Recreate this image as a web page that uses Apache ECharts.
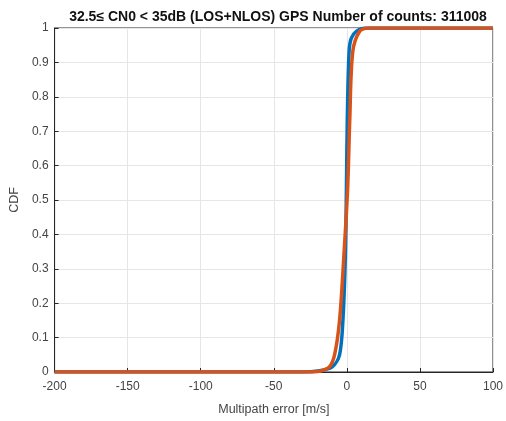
<!DOCTYPE html>
<html>
<head>
    <meta charset="utf-8">
    <title></title>
    <style type="text/css">
        body { margin: 0; background: #fff; }
    </style>
</head>
<body>
<div id="main" style="width: 506px;height:421px;"></div>

<script type="text/javascript" src="https://cdn.jsdelivr.net/npm/echarts@6/dist/echarts.min.js"></script>
<script type="text/javascript">
    // CDF curves
    var blueX = [-200, -30, -20, -10, -5, -2.7, -1, -0.3, 0.3, 1.5, 3, 6.5, 13, 100];
    var blueY = [0, 0, 0.003, 0.015, 0.05, 0.15, 0.34, 0.53, 0.735, 0.93, 0.97, 0.99, 1, 1];
    var orangeX = [-200, -25, -18, -12, -8.4, -5, -2, 0.5, 2, 4, 8.7, 15, 100];
    var orangeY = [0, 0, 0.003, 0.015, 0.05, 0.15, 0.34, 0.53, 0.735, 0.93, 0.99, 1, 1];
    var xTicks = [-200, -150, -100, -50, 0, 50, 100];
    var yTicks = [0, 0.1, 0.2, 0.3, 0.4, 0.5, 0.6, 0.7, 0.8, 0.9, 1];

    function pairs(xs, ys) {
        return xs.map(function (x, i) { return [x, ys[i]]; });
    }

    var txt = '#444';
    var myChart = echarts.init(document.getElementById('main'));
    myChart.setOption({
        animation: false,
        title: {
            text: '32.5\u2264 CN0 < 35dB (LOS+NLOS) GPS Number of counts: 311008',
            left: 273, top: 5, textAlign: 'center',
            textStyle: { fontSize: 14, fontWeight: 'bold', color: '#111', fontFamily: 'Liberation Sans' }
        },
        grid: {
            left: 54, right: 12, top: 28, bottom: 46,
            show: true, borderColor: '#262626', borderWidth: 1
        },
        xAxis: {
            type: 'value', min: -200, max: 100, interval: 50,
            name: 'Multipath error [m/s]', nameLocation: 'middle', nameGap: 31,
            nameTextStyle: { fontSize: 12.5, color: txt, fontFamily: 'Liberation Sans' },
            axisLine: { onZero: false, lineStyle: { color: '#262626' } },
            axisTick: { inside: true, length: 4, lineStyle: { color: '#262626' } },
            axisLabel: { fontSize: 12, color: txt, margin: 9, fontFamily: 'Liberation Sans',
                formatter: function (v) { return xTicks.indexOf(v) >= 0 ? String(v) : ''; } },
            splitLine: { lineStyle: { color: '#e6e6e6' } }
        },
        yAxis: {
            type: 'value', min: 0, max: 1, interval: 0.1,
            name: 'CDF', nameLocation: 'middle', nameGap: 33,
            nameTextStyle: { fontSize: 12.5, color: txt, fontFamily: 'Liberation Sans' },
            axisLine: { show: true, onZero: false, lineStyle: { color: '#262626' } },
            axisTick: { show: true, inside: true, length: 4, lineStyle: { color: '#262626' } },
            axisLabel: { fontSize: 12, color: txt, margin: 6, fontFamily: 'Liberation Sans',
                formatter: function (v) {
                    var r = Math.round(v * 10) / 10;
                    return yTicks.indexOf(r) >= 0 ? String(r) : '';
                } },
            splitLine: { lineStyle: { color: '#e6e6e6' } }
        },
        series: [{
            name: 'blue',
            type: 'line',
            smooth: 0.3,
            symbol: 'none',
            lineStyle: { color: '#0072BD', width: 3.5 },
            data: pairs(blueX, blueY)
        }, {
            name: 'orange',
            type: 'line',
            smooth: 0.3,
            symbol: 'none',
            lineStyle: { color: '#D95319', width: 3.5 },
            data: pairs(orangeX, orangeY)
        }]
    });
</script>

</body>
</html>
